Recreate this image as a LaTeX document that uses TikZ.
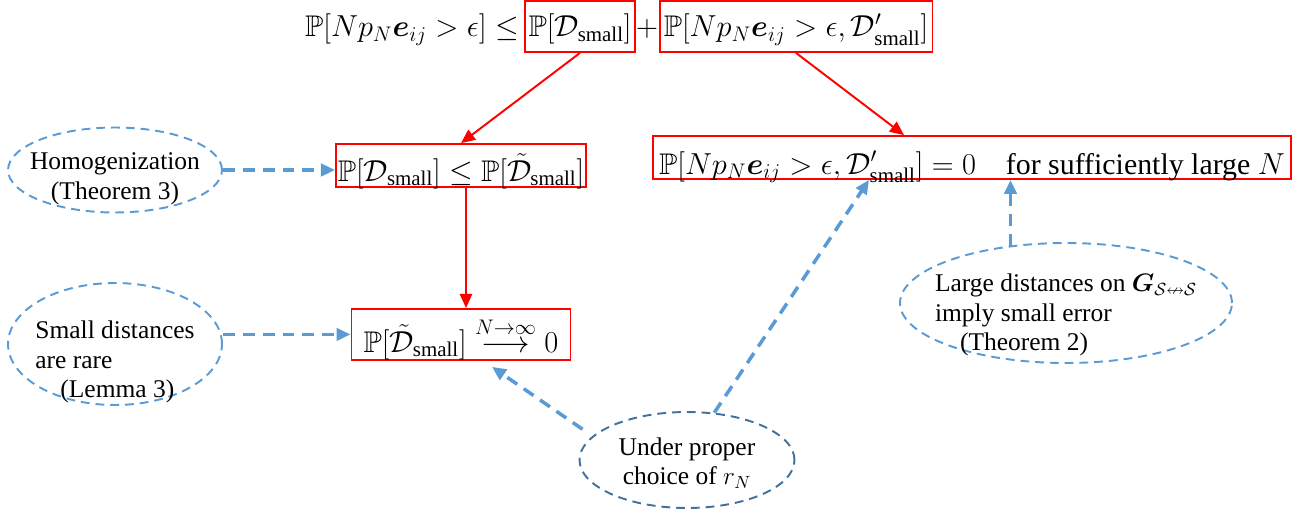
\documentclass[tikz,border=0pt]{standalone}
\usepackage{amsmath}
\usepackage{amssymb}
\usepackage{bm}
\usepackage[no-math]{fontspec}
\setmainfont{Liberation Serif}
\usepackage{tikz}
\usetikzlibrary{shapes.geometric, arrows.meta}
\definecolor{cRed}{RGB}{255,0,0}
\definecolor{cBlue}{RGB}{91,155,213}
\definecolor{cDark}{RGB}{65,113,156}
\tikzset{
	mathtext/.style ={inner sep=0pt, font=\fontsize{17}{21}\selectfont},
	mathbox/.style  ={rectangle, draw=cRed, line width=1.1pt, inner xsep=1pt, inner ysep=0pt, text centered, font=\fontsize{17}{21}\selectfont},
	noteell/.style  ={ellipse, draw=cBlue, line width=1.1pt, dash pattern=on 5pt off 3.4pt, inner sep=0pt},
	notetext/.style ={inner sep=0pt, font=\fontsize{14.5}{17}\selectfont},
	redarrow/.style ={-{Triangle[length=8pt, width=7pt]}, draw=cRed, line width=1.1pt},
	notearrow/.style={-{Triangle[length=8pt, width=7pt]}, draw=cBlue, line width=2pt, dash pattern=on 6.8pt off 4.5pt},
}

\begin{document}
\begin{tikzpicture}[x=0.02cm, y=-0.02cm]
	\useasboundingbox (0,0) rectangle (1308,517);
	% formula on top
	\node[mathtext, anchor=base east] (lhs) at (519,37) {$\mathbb{P}[Np_N\bm{e}_{ij}>\epsilon]\le$};
	\node[mathbox, anchor=base, minimum width=2.2cm, text height=20.5pt, text depth=8.5pt] (dsmall) at (580,37) {$\mathbb{P}[\mathcal{D}_{\text{small}}]$};
	\node[mathtext, anchor=base] (plus) at (647,37) {$+$};
	\node[mathbox, anchor=base, minimum width=5.46cm, text height=20.5pt, text depth=8.5pt] (dlarge) at (796,37) {$\mathbb{P}[Np_N\bm{e}_{ij}>\epsilon,\mathcal{D}'_{\text{small}}]$};
	% derived statements
	\node[mathbox, anchor=base, minimum width=4.8cm, text height=21pt, text depth=3.4pt] (ineq) at (461,181) {$\mathbb{P}[\mathcal{D}_{\text{small}}]\le\mathbb{P}[\tilde{\mathcal{D}}_{\text{small}}]$};
	\node[mathbox, anchor=base, minimum width=12.78cm, text height=21.6pt, text depth=2.8pt] (zero) at (972,174) {$\mathbb{P}[Np_N\bm{e}_{ij}>\epsilon,\mathcal{D}'_{\text{small}}]=0$\quad for sufficiently large $N$};
	\node[mathbox, anchor=base, minimum width=4.38cm, text height=24.5pt, text depth=4.5pt] (limit) at (461,352) {$\mathbb{P}[\tilde{\mathcal{D}}_{\text{small}}]\overset{N\to\infty}{\longrightarrow}0$};
	% justifications
	\node[noteell, minimum width=4.28cm, minimum height=1.7cm] (homog) at (115,170) {};
	\node[notetext, align=center] (homogtxt) at ([yshift=-0.18cm]homog.center) {Homogenization\\(Theorem 3)};
	\node[noteell, minimum width=4.28cm, minimum height=2.44cm] (rare) at (115,344) {};
	\node[notetext, align=left] (raretxt) at ([yshift=-0.36cm]rare.center) {Small distances\\are rare\\\hspace*{0.5cm}(Lemma 3)};
	\node[noteell, minimum width=6.64cm, minimum height=2.4cm] (large) at (1066,303) {};
	\node[notetext, align=left] (largetxt) at ([yshift=-0.24cm]large.center) {Large distances on $\bm{G}_{\mathcal{S}\nleftrightarrow\mathcal{S}}$\\imply small error\\\hspace*{0.5cm}(Theorem 2)};
	\node[noteell, draw=cDark, minimum width=4.3cm, minimum height=1.92cm] (choice) at (687,460) {};
	\node[notetext, align=center] (choicetxt) at ([yshift=-0.06cm]choice.center) {Under proper\\choice of $r_N$};

	\draw[redarrow] (dsmall.south) -- (ineq.north);
	\draw[redarrow] (dlarge.south) -- ([xshift=-1.36cm]zero.north);
	\draw[redarrow] ([xshift=0.1cm]ineq.south) -- ([xshift=0.1cm]ineq.south |- limit.north);
	\draw[notearrow] (homog.east) -- (homog.east -| ineq.west);
	\draw[notearrow] (rare.east |- limit.west) -- (limit.west);
	\draw[notearrow] (large.134) -- (large.134 |- zero.south);
	\draw[notearrow] (choice.60) -- ([xshift=-2.06cm]zero.south);
	\draw[notearrow] ([xshift=-0.4cm]choice.160) -- ([xshift=0.62cm, yshift=-0.12cm]limit.south);
\end{tikzpicture}
\end{document}
